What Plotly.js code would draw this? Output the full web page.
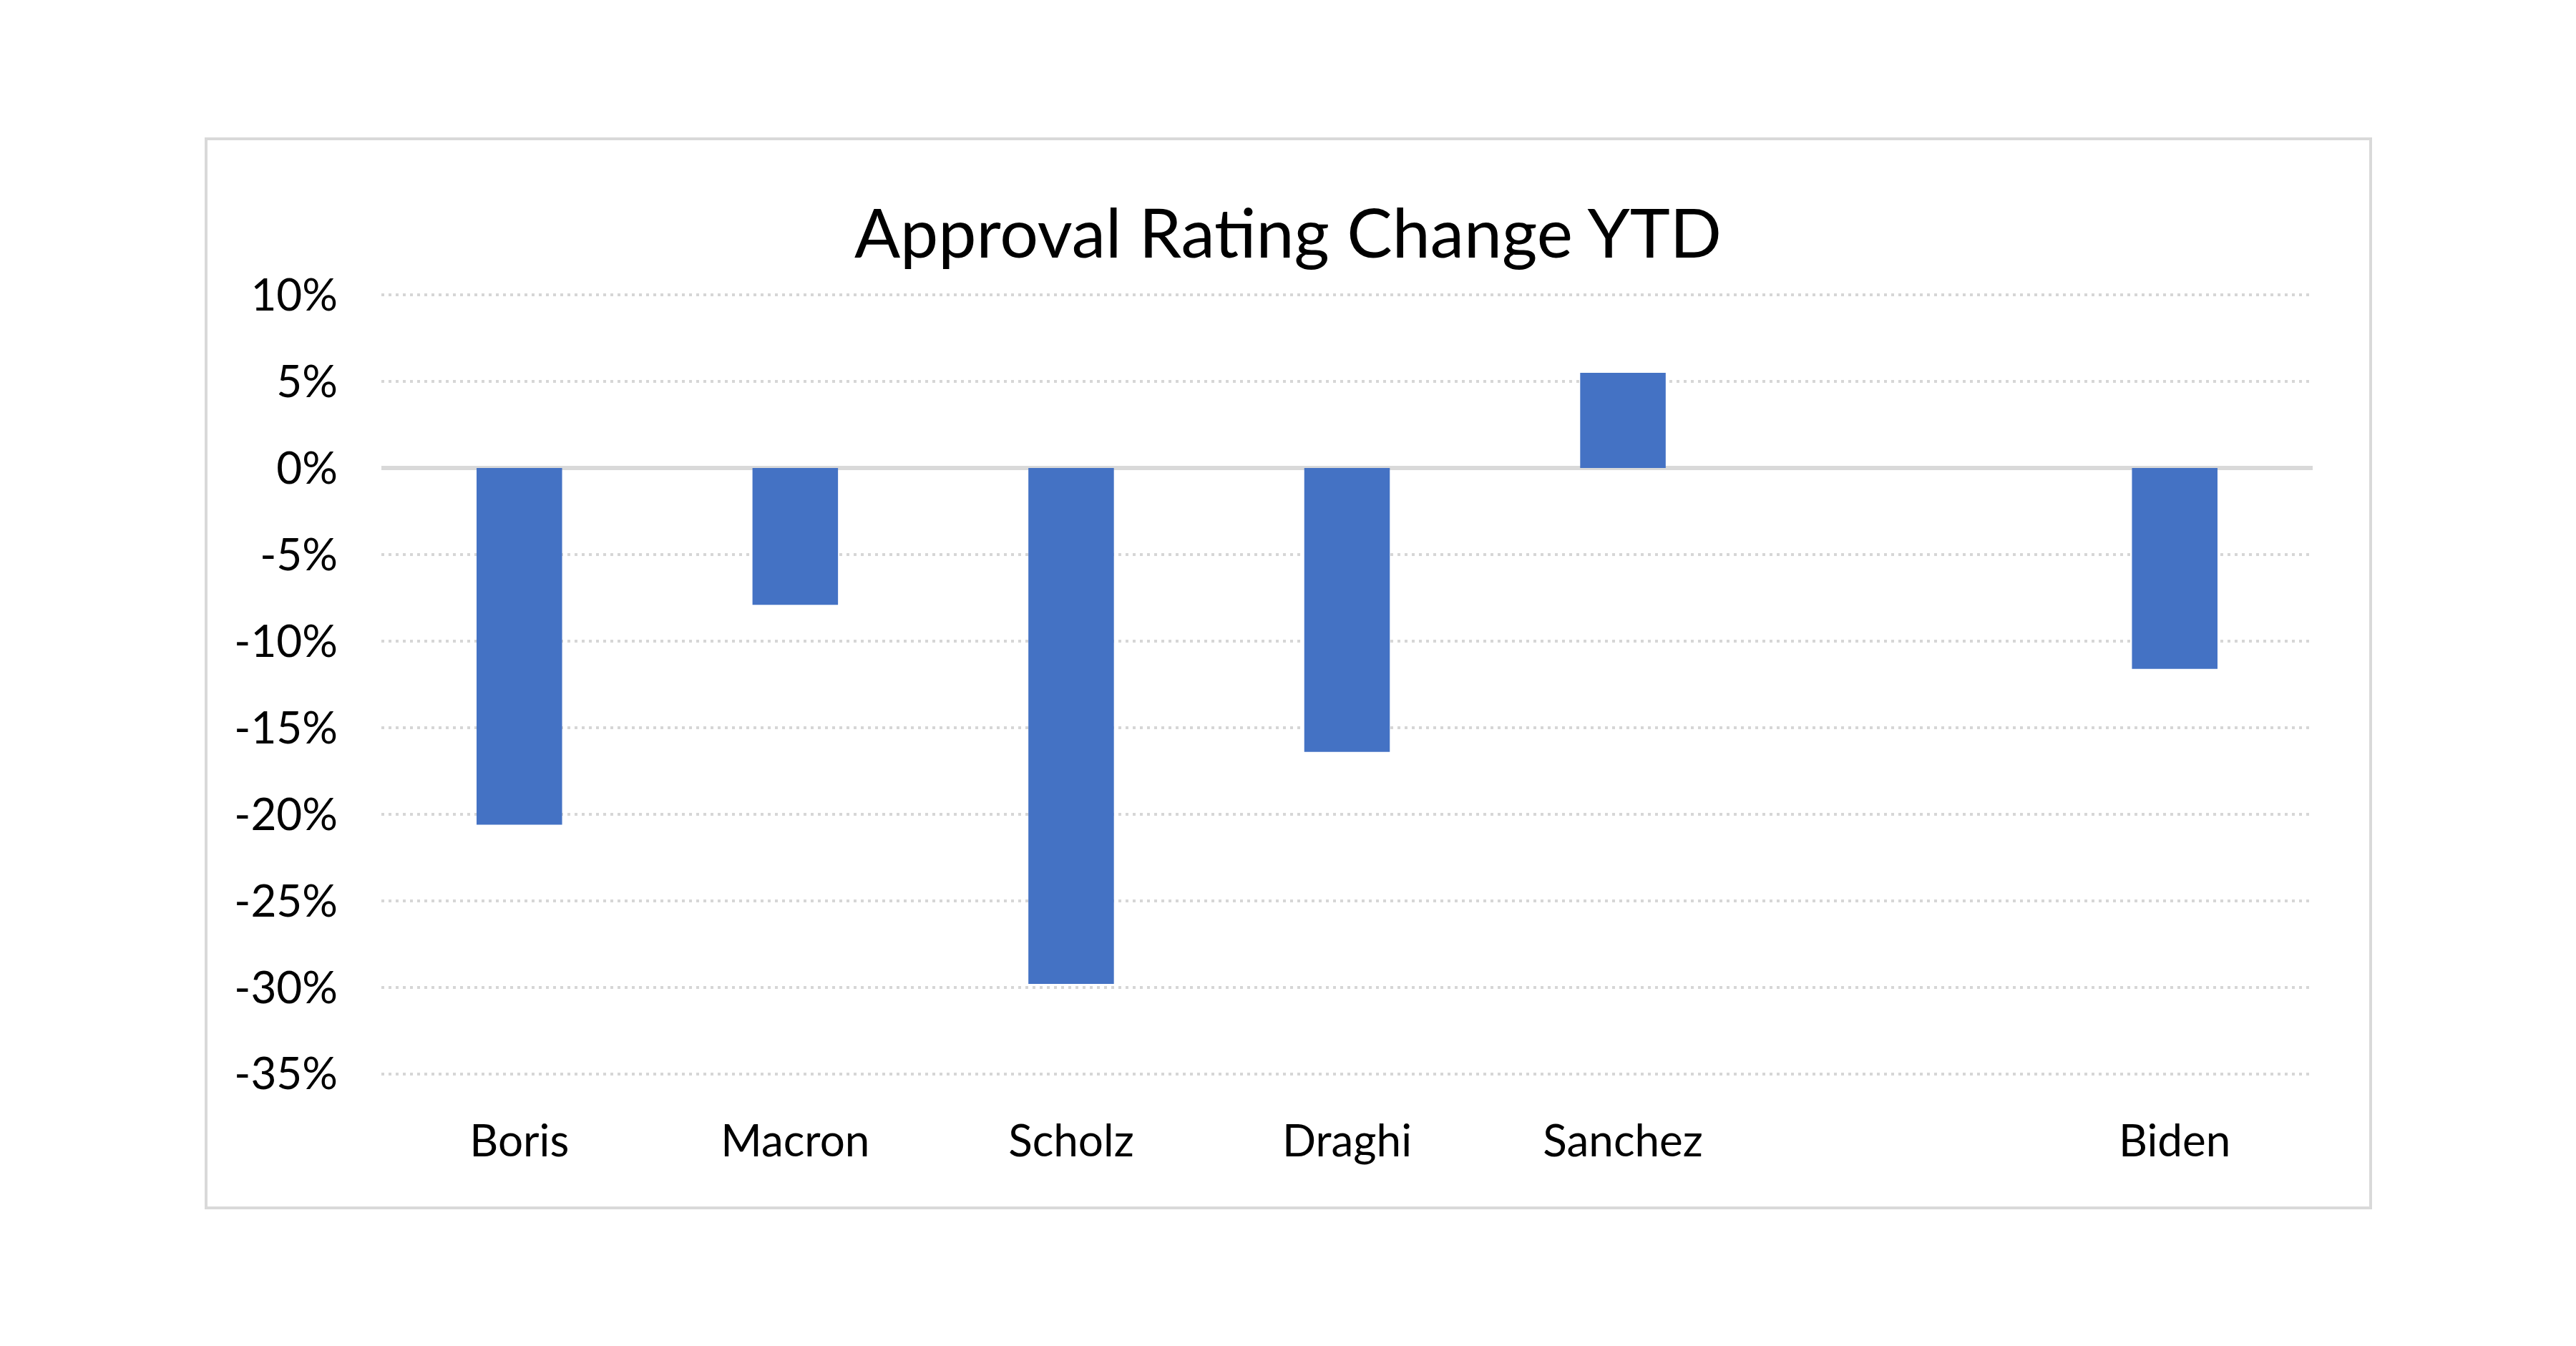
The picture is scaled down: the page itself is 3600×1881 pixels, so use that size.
<!DOCTYPE html>
<html>
<head>
<meta charset="utf-8">
<script src="https://cdn.plot.ly/plotly-3.0.1.min.js"></script>
<style>
  html, body { margin: 0; padding: 0; background: #ffffff; }
  #chart { width: 3600px; height: 1881px; }
</style>
</head>
<body>
<div id="chart"></div>
<script>
// ---- data ----
const categories = ['Boris', 'Macron', 'Scholz', 'Draghi', 'Sanchez', ' ', 'Biden'];
const approvalChange = [-0.206, -0.079, -0.298, -0.164, 0.055, null, -0.116];
const yTickValues = [0.10, 0.05, 0, -0.05, -0.10, -0.15, -0.20, -0.25, -0.30, -0.35];
const yTickLabels = ['10%', '5%', '0%', '-5%', '-10%', '-15%', '-20%', '-25%', '-30%', '-35%'];
const chartTitle = 'Approval Rating Change YTD';

const FONT = 'Lato, "Noto Sans", sans-serif';
const GRID = '#d6d6d6';

const trace = {
  type: 'bar',
  x: categories,
  y: approvalChange,
  marker: { color: '#4472c4', line: { width: 0 } },
  hoverinfo: 'skip'
};

const layout = {
  width: 3600,
  height: 1881,
  paper_bgcolor: '#ffffff',
  plot_bgcolor: '#ffffff',
  margin: { l: 533, r: 368, t: 411, b: 379, pad: 0 },
  showlegend: false,
  bargap: 0.69,
  font: { family: FONT, color: '#000000', size: 62 },
  title: {
    text: chartTitle,
    font: { family: FONT, size: 95, color: '#000000' },
    x: 0.5,
    xref: 'container',
    y: 1 - 327 / 1881,
    yref: 'container',
    yanchor: 'middle'
  },
  xaxis: {
    type: 'category',
    categoryorder: 'array',
    categoryarray: categories,
    showgrid: false,
    zeroline: false,
    showline: false,
    ticks: '',
    ticklabelstandoff: 51,
    tickfont: { family: FONT, size: 62, color: '#000000' },
    fixedrange: true
  },
  yaxis: {
    range: [-0.3505, 0.1005],
    tickvals: yTickValues,
    ticktext: yTickLabels,
    showgrid: true,
    gridcolor: GRID,
    gridwidth: 4,
    griddash: '4px,6px',
    zeroline: true,
    zerolinecolor: '#d9d9d9',
    zerolinewidth: 6,
    showline: false,
    ticks: '',
    ticklabelstandoff: 60,
    tickfont: { family: FONT, size: 62, color: '#000000' },
    fixedrange: true
  },
  shapes: [{
    type: 'rect',
    xref: 'paper', yref: 'paper',
    x0: (288 - 533) / 2699, x1: (3313 - 533) / 2699,
    y0: (1502 - 1688) / 1091, y1: (1502 - 194) / 1091,
    line: { color: '#d9d9d9', width: 4 },
    fillcolor: 'rgba(0,0,0,0)',
    layer: 'below'
  }]
};

Plotly.newPlot('chart', [trace], layout, { displayModeBar: false, staticPlot: true });
</script>
</body>
</html>
